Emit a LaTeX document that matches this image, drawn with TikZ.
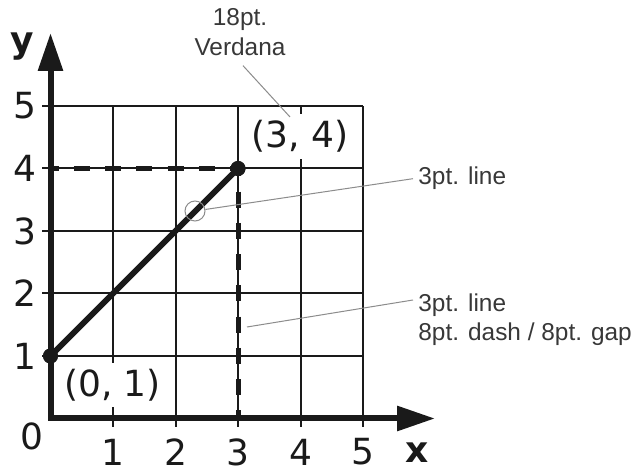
\documentclass[tikz,border=0pt]{standalone}
\usepackage{fontspec}
\setmainfont{DejaVu Sans}
\newfontfamily\notefont{Liberation Sans}
\usetikzlibrary{arrows.meta}
\definecolor{ink}{HTML}{1A1A1A}
\definecolor{notegray}{HTML}{383838}
\definecolor{leadgray}{HTML}{8C8C8C}
\begin{document}
\begin{tikzpicture}[x=0.5pt,y=-0.5pt,
  gridline/.style={ink, line width=1pt},
  axisline/.style={ink, line width=3pt, line join=miter,
    arrows={Triangle[length=19pt,width=12pt]-Triangle[length=19pt,width=12pt]}},
  plotline/.style={ink, line width=3pt},
  dashline/.style={ink, line width=2.5pt, dash pattern=on 8pt off 7.625pt, dash phase=4pt},
  dotmark/.style={circle, fill=ink, inner sep=0pt, minimum size=7.5pt},
  ticklabel/.style={text=ink, inner sep=0pt, font=\fontsize{18}{22}\selectfont},
  axislabel/.style={text=ink, inner sep=0pt, font=\fontsize{18}{22}\selectfont\bfseries},
  pointlabel/.style={text=ink, fill=white, inner sep=3pt, font=\fontsize{18}{22}\selectfont},
  note/.style={text=notegray, inner sep=2.5pt, font=\notefont\fontsize{12.2}{14.8}\selectfont},
  leader/.style={leadgray, line width=0.5pt}
]
\useasboundingbox (0,0) rectangle (631,469);
\fill[white] (0,0) rectangle (631,469);

\begin{scope}[shift={(50.5,418.5)}, x=31.25pt, y=31.25pt]
  % grid
  \foreach \i in {1,...,5} {
    \draw[gridline] (\i,-0.136) -- (\i,5);
    \draw[gridline] (-0.136,\i) -- (5,\i);
  }
  % coordinates for the guide lines
  \coordinate (yfour) at (0,4);
  \coordinate (xthree) at (3,0);
  \node[dotmark] (p01) at (0,1) {};
  \node[dotmark] (p34) at (3,4) {};
  % dashed guides
  \draw[dashline] (yfour) -- (p34.center);
  \draw[dashline] (p34.center) -- (xthree);
  % point labels
  \node[pointlabel] (lab34) at (3.992,4.512) {(3, 4)};
  \node[pointlabel] (lab01) at (0.992,0.536) {(0, 1)};
  % axes
  \coordinate (ytip) at (0,6.168);
  \coordinate (orig) at (0,0);
  \coordinate (xtip) at (6.152,0);
  \draw[axisline] (ytip) -- (orig) -- (xtip);
  % plotted line and points
  \draw[plotline] (p01.center) -- (p34.center);
  \node[dotmark] (p01b) at (0,1) {};
  \node[dotmark] (p34b) at (3,4) {};
  % tick labels
  \foreach \i in {1,...,5} {
    \node[ticklabel] (xl\i) at (\i,-0.536) {\i};
    \node[ticklabel] (yl\i) at (-0.408,\i) {\i};
  }
  \node[ticklabel] (zero) at (-0.296,-0.288) {0};
  \node[axislabel] (xname) at (5.864,-0.552) {x};
  \node[axislabel] (yname) at (-0.456,5.944) {y};
\end{scope}

% annotations
\node[circle, draw=leadgray, line width=0.5pt, minimum size=10pt, inner sep=0pt] (mark) at (195,211) {};
\node[note, anchor=north, align=center] (fontnote) at (240,3) {18pt.\\Verdana};
\node[note, anchor=base west] (linenote) at (413,185) {3pt. line};
\node[note, anchor=north west, align=left] (dashnote) at (413,288) {3pt. line\\8pt. dash / 8pt. gap};
\coordinate (fontend) at (290,117);
\coordinate (dashend) at (247,327);
\draw[leader] ([xshift=1.5pt,yshift=-2.5pt]fontnote.south) -- (fontend);
\draw[leader] (linenote.west) -- (mark);
\draw[leader] ([yshift=-6pt]dashnote.north west) -- (dashend);
\end{tikzpicture}
\end{document}
